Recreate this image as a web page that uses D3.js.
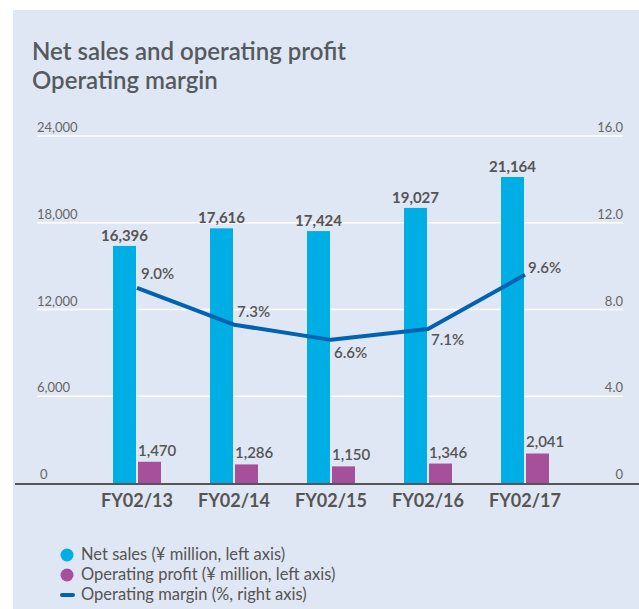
<!DOCTYPE html>
<meta charset="utf-8">
<style>
body { margin: 0; background: #fff; }
svg { display: block; font-family: Lato, "Open Sans", sans-serif; }
.tick-label { fill: #666; font-size: 13px; }
.cat { fill: #555; font-size: 18px; font-weight: bold; }
.val { fill: #555; font-size: 15px; }
.legend text { fill: #555; font-size: 16.5px; }
</style>
<svg width="639" height="609"></svg>
<script src="https://d3js.org/d3.v7.min.js"></script>
<script>
// data
var years = ['FY02/13', 'FY02/14', 'FY02/15', 'FY02/16', 'FY02/17'];
var netSales = [16396, 17616, 17424, 19027, 21164];
var opProfit = [1470, 1286, 1150, 1346, 2041];
var opMargin = [9.0, 7.3, 6.6, 7.1, 9.6];
var leftTicks = [0, 6000, 12000, 18000, 24000];
var rightTicks = [0, 4.0, 8.0, 12.0, 16.0];

var salesColor = '#00aee6', profitColor = '#a6509c', lineColor = '#0062b1';

var svg = d3.select('svg');

svg.append('rect')
    .attr('x', 13).attr('y', 10)
    .attr('width', 626).attr('height', 599)
    .attr('fill', '#e0e7f4');

svg.append('text').attr('x', 32).attr('y', 60)
    .attr('fill', '#555a5f').style('font-size', '24px').style('font-weight', 600)
    .text('Net sales and operating profit');
svg.append('text').attr('x', 32).attr('y', 89)
    .attr('fill', '#555a5f').style('font-size', '24px').style('font-weight', 600)
    .text('Operating margin');

var yL = d3.scaleLinear().domain([0, 24000]).range([483, 136]);
var yR = d3.scaleLinear().domain([0, 16]).range([483, 136]);
var x = d3.scaleBand().domain(years).range([88.5, 573.5]);
var barW = 23;
function center(d) { return x(d) + x.bandwidth() / 2; }

// gridlines
svg.selectAll('.grid')
    .data(leftTicks.slice(1))
    .enter().append('line')
        .attr('x1', 37).attr('x2', 623)
        .attr('y1', function(d) { return yL(d); })
        .attr('y2', function(d) { return yL(d); })
        .attr('stroke', '#fff').attr('stroke-width', 1.5);

svg.selectAll('.lt')
    .data(leftTicks)
    .enter().append('text')
        .attr('class', 'tick-label')
        .attr('x', function(d) { return d == 0 ? 40 : 37; })
        .attr('y', function(d) { return yL(d) - 4; })
        .text(function(d) { return d3.format(',')(d); });

svg.selectAll('.rt')
    .data(rightTicks)
    .enter().append('text')
        .attr('class', 'tick-label')
        .attr('x', 623)
        .attr('y', function(d) { return yR(d) - 4; })
        .style('text-anchor', 'end')
        .text(function(d) { return d == 0 ? '0' : d3.format('.1f')(d); });

// bars
svg.selectAll('.sales')
    .data(years)
    .enter().append('rect')
        .attr('x', function(d) { return center(d) - barW - 1; })
        .attr('y', function(d, i) { return yL(netSales[i]); })
        .attr('width', barW)
        .attr('height', function(d, i) { return yL(0) - yL(netSales[i]); })
        .attr('fill', salesColor);

svg.selectAll('.profit')
    .data(years)
    .enter().append('rect')
        .attr('x', function(d) { return center(d) + 1; })
        .attr('y', function(d, i) { return yL(opProfit[i]); })
        .attr('width', barW)
        .attr('height', function(d, i) { return yL(0) - yL(opProfit[i]); })
        .attr('fill', profitColor);

// bar labels
svg.selectAll('.slab')
    .data(years)
    .enter().append('text')
        .attr('class', 'val')
        .style('font-weight', 'bold')
        .style('text-anchor', 'middle')
        .attr('x', function(d) { return center(d) - barW / 2 - 1; })
        .attr('y', function(d, i) { return yL(netSales[i]) - 5; })
        .text(function(d, i) { return d3.format(',')(netSales[i]); });

svg.selectAll('.plab')
    .data(years)
    .enter().append('text')
        .attr('class', 'val')
        .style('font-weight', 600)
        .attr('x', function(d) { return center(d) + 1; })
        .attr('y', function(d, i) { return yL(opProfit[i]) - 6; })
        .text(function(d, i) { return d3.format(',')(opProfit[i]); });

// axis line
svg.append('line')
    .attr('x1', 15).attr('x2', 639)
    .attr('y1', 484).attr('y2', 484)
    .attr('stroke', '#555').attr('stroke-width', 2);

svg.selectAll('.cat')
    .data(years)
    .enter().append('text')
        .attr('class', 'cat')
        .attr('x', function(d) { return center(d); })
        .attr('y', 507)
        .style('text-anchor', 'middle')
        .text(function(d) { return d; });

// margin line
var line = d3.line()
    .x(function(d, i) { return center(years[i]); })
    .y(function(d) { return yR(d); });

svg.append('path')
    .datum(opMargin)
    .attr('d', line)
    .attr('fill', 'none')
    .attr('stroke', lineColor)
    .attr('stroke-width', 4)
    .attr('stroke-linejoin', 'round');

var mOff = [[4, -9], [3, -8], [3, 18], [3, 16], [3, -2]];
svg.selectAll('.mlab')
    .data(opMargin)
    .enter().append('text')
        .attr('class', 'val')
        .style('font-weight', 600)
        .attr('x', function(d, i) { return center(years[i]) + mOff[i][0]; })
        .attr('y', function(d, i) { return yR(d) + mOff[i][1]; })
        .text(function(d) { return d3.format('.1f')(d) + '%'; });

// legend
var legend = svg.append('g').attr('class', 'legend');
var items = [
    {label: 'Net sales (\u00a5 million, left axis)', color: salesColor, type: 'dot'},
    {label: 'Operating profit (\u00a5 million, left axis)', color: profitColor, type: 'dot'},
    {label: 'Operating margin (%, right axis)', color: lineColor, type: 'line'}
];
items.forEach(function(it, i) {
    var y = 555 + i * 20;
    if (it.type == 'dot') {
        legend.append('circle').attr('cx', 67).attr('cy', y).attr('r', 6.5).attr('fill', it.color);
    } else {
        legend.append('line').attr('x1', 62).attr('x2', 73).attr('y1', y).attr('y2', y)
            .attr('stroke', it.color).attr('stroke-width', 4).attr('stroke-linecap', 'round');
    }
    legend.append('text').attr('x', 81).attr('y', y + 5).text(it.label);
});
</script>
